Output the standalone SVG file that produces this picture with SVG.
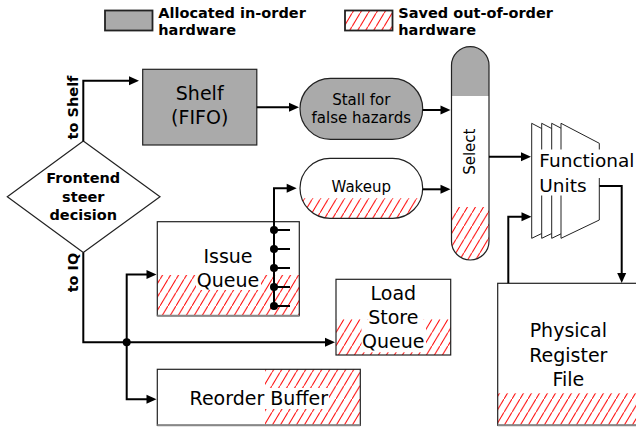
<svg xmlns="http://www.w3.org/2000/svg" width="636" height="430" viewBox="0 0 636 430">
<style>
text{font-family:"DejaVu Sans","Liberation Sans",sans-serif;fill:#000}
.b{font-weight:bold;font-size:14.5px}
.bc{font-weight:bold;font-size:14.5px;text-anchor:middle}
.l{font-size:19px;text-anchor:middle}
.fu{font-size:18.5px}
.m{font-size:15px;text-anchor:middle}
.wf{fill:#fff}
.gf{fill:#aaa}
.hf{fill:url(#h)}
.ol{fill:none;stroke:#222;stroke-width:1.2}
.gb{fill:none;stroke:#888;stroke-width:2}
.c{fill:none;stroke:#000;stroke-width:2}
.a{marker-end:url(#arr)}
.dot{fill:#000}
</style>
<defs>
<pattern id="h" patternUnits="userSpaceOnUse" width="8" height="13.3">
<path d="M-0.6,14.3 L8.6,-1" stroke="#f00" stroke-width="1" fill="none"/>
</pattern>
<marker id="arr" markerUnits="userSpaceOnUse" markerWidth="10" markerHeight="9" refX="3" refY="4.5" orient="auto" overflow="visible">
<path d="M0,0 L10,4.5 L0,9 z" fill="#000"/>
</marker>
<clipPath id="cpSel"><rect x="451.5" y="46.7" width="37.5" height="213.3" rx="18.75"/></clipPath>
<clipPath id="cpWake"><rect x="300" y="158.3" width="122.7" height="60" rx="30"/></clipPath>
</defs>

<g id="legend">
<rect x="105" y="10.5" width="47.5" height="20" class="gf" stroke="#222" stroke-width="1.8"/>
<text class="b" x="158.3" y="17.5">Allocated in-order</text>
<text class="b" x="158.3" y="35">hardware</text>
<rect x="345" y="10.5" width="47.5" height="20" class="wf"/>
<rect x="345" y="10.5" width="47.5" height="20" class="hf" stroke="#222" stroke-width="1.8"/>
<text class="b" x="398.3" y="17.5">Saved out-of-order</text>
<text class="b" x="398.3" y="35">hardware</text>
</g>

<g id="steer">
<polygon points="83.3,141 160,196.7 83.3,252.5 7.3,196.7" fill="#fff" stroke="#222" stroke-width="1.2"/>
<text class="bc" x="83.3" y="183.3">Frontend</text>
<text class="bc" x="83.3" y="201.7">steer</text>
<text class="bc" x="83.3" y="220">decision</text>
</g>

<g id="shelf">
<rect x="142.7" y="69.3" width="114.1" height="75.7" class="gf" stroke="#222" stroke-width="1.2"/>
<text class="l" x="199.7" y="100">Shelf</text>
<text class="l" x="199.7" y="124">(FIFO)</text>
</g>

<g id="stall">
<rect x="300" y="78.3" width="122.7" height="61" rx="30.5" class="gf" stroke="#222" stroke-width="1.2"/>
<text class="m" x="361.3" y="105">Stall for</text>
<text class="m" x="361.3" y="123.3">false hazards</text>
</g>

<g id="wakeup">
<rect x="300" y="158.3" width="122.7" height="60" rx="30" class="wf"/>
<rect x="300" y="198.3" width="122.7" height="20" class="hf" clip-path="url(#cpWake)"/>
<rect x="300" y="158.3" width="122.7" height="60" rx="30" class="ol"/>
<text class="m" x="361.3" y="192.3">Wakeup</text>
</g>

<g id="select">
<rect x="451.5" y="46.7" width="37.5" height="213.3" rx="18.75" class="wf"/>
<rect x="451.5" y="46.7" width="37.5" height="49.3" class="gf" clip-path="url(#cpSel)"/>
<rect x="451.5" y="207" width="37.5" height="53" class="hf" clip-path="url(#cpSel)"/>
<rect x="451.5" y="46.7" width="37.5" height="213.3" rx="18.75" class="ol"/>
<text class="m" transform="translate(475,151.7) rotate(-90)">Select</text>
</g>

<g id="functional-units">
<polygon points="531.7,123.3 570,143.3 570,220 531.7,238.3" fill="#fff" stroke="#222" stroke-width="1"/>
<polygon points="541.7,123.3 580,143.3 580,220 541.7,238.3" fill="#fff" stroke="#222" stroke-width="1"/>
<polygon points="551.7,123.3 590,143.3 590,220 551.7,238.3" fill="#fff" stroke="#222" stroke-width="1"/>
<polygon points="561,123.3 599.3,143.3 599.3,220 561,238.3" fill="#fff" stroke="#222" stroke-width="1"/>
<rect x="537" y="149.5" width="99" height="28.5" class="wf"/>
<rect x="537" y="172" width="52" height="23.5" class="wf"/>
<text class="fu" x="539.3" y="166.7">Functional</text>
<text class="fu" x="539.3" y="191.7">Units</text>
</g>

<g id="issue-queue">
<rect x="157.3" y="221.7" width="142" height="94" class="wf"/>
<rect x="157.3" y="275" width="142" height="40.7" class="hf"/>
<rect x="196" y="275" width="65" height="15" class="wf"/>
<rect x="157.3" y="221.7" width="142" height="94" class="ol"/>
<path class="gb" d="M157.3,315.7 H299.3"/>
<text class="l" x="228" y="263.3">Issue</text>
<text class="l" x="228" y="286.7">Queue</text>
</g>

<g id="load-store-queue">
<rect x="336" y="279.3" width="114.7" height="75.7" class="wf"/>
<rect x="336" y="319.3" width="114.7" height="35.7" class="hf"/>
<rect x="361.5" y="319.3" width="64.5" height="33" class="wf"/>
<rect x="336" y="279.3" width="114.7" height="75.7" class="ol"/>
<text class="l" x="393.3" y="300">Load</text>
<text class="l" x="393.3" y="324.3">Store</text>
<text class="l" x="393.3" y="348.3">Queue</text>
</g>

<g id="reorder-buffer">
<rect x="157.3" y="369.3" width="203" height="56" class="wf"/>
<rect x="265" y="369.3" width="95.3" height="56" class="hf"/>
<rect x="265" y="388" width="64" height="21" class="wf"/>
<rect x="157.3" y="369.3" width="203" height="56" class="ol"/>
<path class="gb" d="M157.3,425.3 H360.3"/>
<text class="l" x="258.8" y="405">Reorder Buffer</text>
</g>

<g id="register-file">
<rect x="497.7" y="283.3" width="142" height="142" class="wf"/>
<rect x="497.7" y="393.3" width="142" height="32" class="hf"/>
<rect x="497.7" y="283.3" width="142" height="142" class="ol"/>
<path class="gb" d="M497.7,425.3 H640"/>
<text class="l" x="568.3" y="337.3">Physical</text>
<text class="l" x="568.3" y="361.7">Register</text>
<text class="l" x="568.3" y="385.7">File</text>
</g>

<g id="connectors">
<path class="c a" d="M83.3,141 V80.7 H132"/>
<path class="c a" d="M256.8,107.3 H292"/>
<path class="c a" d="M422.7,110 H443.5"/>
<path class="c a" d="M422.7,189.3 H443.5"/>
<path class="c a" d="M489,156.7 H524"/>
<path class="c a" d="M599.3,186 H621.7 V276"/>
<path class="c a" d="M508.3,283.3 V216.7 H524.5"/>
<path class="c a" d="M83.3,252.5 V342.3 H328"/>
<path class="c a" d="M126.7,342.3 V274.5 H149.5"/>
<path class="c a" d="M126.7,342.3 V399.3 H149.5"/>
<path class="c a" d="M274,306 V188.3 H289.7"/>
<path class="c" d="M274,230 H290 M274,249 H290 M274,268 H290 M274,287 H290 M274,306 H290"/>
<circle class="dot" cx="274" cy="230" r="4"/>
<circle class="dot" cx="274" cy="249" r="4"/>
<circle class="dot" cx="274" cy="268" r="4"/>
<circle class="dot" cx="274" cy="287" r="4"/>
<circle class="dot" cx="274" cy="306" r="4"/>
<circle class="dot" cx="126.7" cy="342.3" r="4"/>
<text class="bc" transform="translate(77.5,107.5) rotate(-90)">to Shelf</text>
<text class="bc" transform="translate(77.5,272.5) rotate(-90)">to IQ</text>
</g>
</svg>
